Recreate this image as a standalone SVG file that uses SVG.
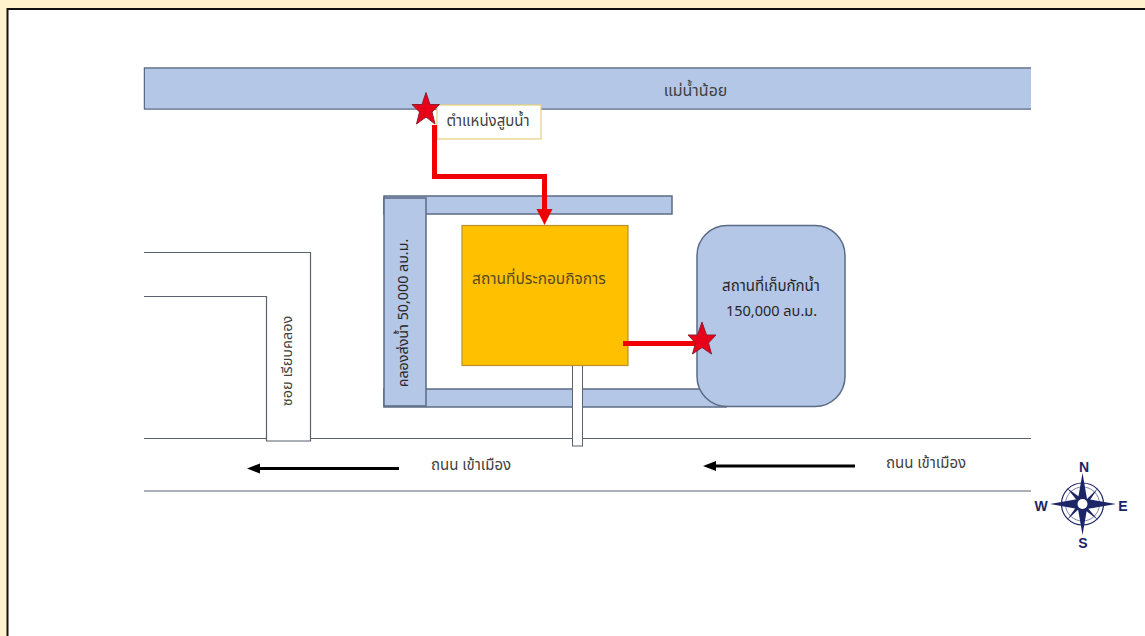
<svg xmlns="http://www.w3.org/2000/svg" width="1145" height="636" viewBox="0 0 1145 636">
<style>
.t{font-family:"Noto Sans Thai","Noto Sans","DejaVu Sans","Liberation Sans",sans-serif;font-size:15px;fill:#404040}
.d{fill:#262626}
.w{fill:#b4c7e7;stroke:#5b6b85;stroke-width:1.5}
.l{fill:none;stroke:#59626f;stroke-width:1.2}
.red{fill:none;stroke:#f00000;stroke-width:5}
.star{fill:#e8001a;stroke:#8a2030;stroke-width:1}
.c{font-family:"Liberation Sans",sans-serif;font-weight:700;font-size:14px;fill:#1c2566}
.k{fill:none;stroke:#000;stroke-width:3}
</style>
<rect width="1145" height="636" fill="#fff2cc"/>
<rect x="7" y="9" width="1138" height="627" fill="#fff"/>
<path d="M7.500 636V9H1145" fill="none" stroke="#111" stroke-width="2"/>
<g id="river"><path class="w" d="M1031 68H144.500V109H1031"/><rect x="145" y="68.800" width="886" height="39.500" fill="#b4c7e7"/><text class="t" x="695.500" y="96" text-anchor="middle" style="font-size:16px">แม่น้ำน้อย</text></g>
<g id="soi"><path class="l" d="M144 252.500H310.500V441H266.500V296.500H144"/><text class="t" transform="translate(292 361) rotate(-90)" text-anchor="middle" style="font-size:14.500px">ซอย เรียบคลอง</text></g>
<g id="road"><path class="l" d="M144 438.500H266.500M310.500 438.500H1031M144 491H1031"/>
<text class="t" x="471" y="470" text-anchor="middle">ถนน เข้าเมือง</text><text class="t" x="926" y="468" text-anchor="middle">ถนน เข้าเมือง</text></g>
<g id="canal-top"><rect class="w" x="384" y="196" width="288" height="18"/></g>
<g id="canal-bottom"><rect class="w" x="384" y="389" width="342" height="18"/></g>
<g id="canal-left"><rect class="w" x="384" y="198" width="42" height="208"/><text class="t d" transform="translate(408 313) rotate(-90)" text-anchor="middle" style="font-size:14.300px">คลองส่งน้ำ 50,000 ลบ.ม.</text></g>
<g id="driveway"><rect x="572.500" y="365" width="10" height="81" fill="#fff" stroke="#59626f"/></g>
<g id="building"><rect x="462" y="225.500" width="166" height="140" fill="#ffc000" stroke="#b8922a" stroke-width="1.2"/><text class="t" x="539" y="284" text-anchor="middle" style="fill:#594a20;font-size:15.500px">สถานที่ประกอบกิจการ</text></g>
<g id="reservoir"><rect class="w" x="697" y="225.500" width="148" height="181" rx="30"/><text class="t d" x="771" y="291" text-anchor="middle">สถานที่เก็บกักน้ำ</text><text class="t d" x="771.500" y="316" text-anchor="middle" style="font-size:14.500px">150,000 ลบ.ม.</text></g>
<g id="pump-label"><rect x="437" y="105" width="104" height="34" fill="#fff" stroke="#e6cf7a" stroke-width="1.2"/><text class="t" x="488" y="126" text-anchor="middle">ตำแหน่งสูบน้ำ</text></g>
<g id="connectors">
<path class="red" d="M434.500 125V176.500H544.500V212"/><path d="M536.500 209H552.500L544.500 225Z" fill="#ee0000"/>
<path class="red" d="M623 343.500H700"/>
<path class="k" d="M255 468.500H399"/><path d="M247 468.500L260 463.500V473.500Z" fill="#000"/>
<path class="k" d="M711 466H855"/><path d="M703 466L716 461V471Z" fill="#000"/>
</g>
<g id="star-pump"><path class="star" d="M426 92.500L430 104.500H439.500L432 112L435 124L426 117L416.500 124L419.500 112L412 104.500H422Z"/></g>
<g id="star-reservoir"><path class="star" d="M702 322L706.500 335H716L708.500 343L711.500 354L702 347.500L692.500 354L695.500 343L688 335H697.500Z"/></g>
<g id="compass">
<circle cx="1082.500" cy="504" r="21" fill="none" stroke="#1c2566" stroke-width="1.2"/>
<circle cx="1082.500" cy="504" r="17" fill="none" stroke="#7f86a8" stroke-width="1"/>
<path d="M1082.500 473L1087 499L1116 504L1087 509L1082.500 535L1078 509L1050 504L1078 499Z" fill="#1c2566"/>
<path d="M1067 488L1085 501L1098 488L1086 506L1098 520L1081 507L1067 520L1079 503Z" fill="#1c2566"/>
<circle cx="1082.500" cy="504" r="5" fill="#fff"/>
<text class="c" x="1084" y="472" text-anchor="middle">N</text><text class="c" x="1041" y="511" text-anchor="middle">W</text><text class="c" x="1123" y="511" text-anchor="middle">E</text><text class="c" x="1083" y="548" text-anchor="middle">S</text>
</g>
</svg>
